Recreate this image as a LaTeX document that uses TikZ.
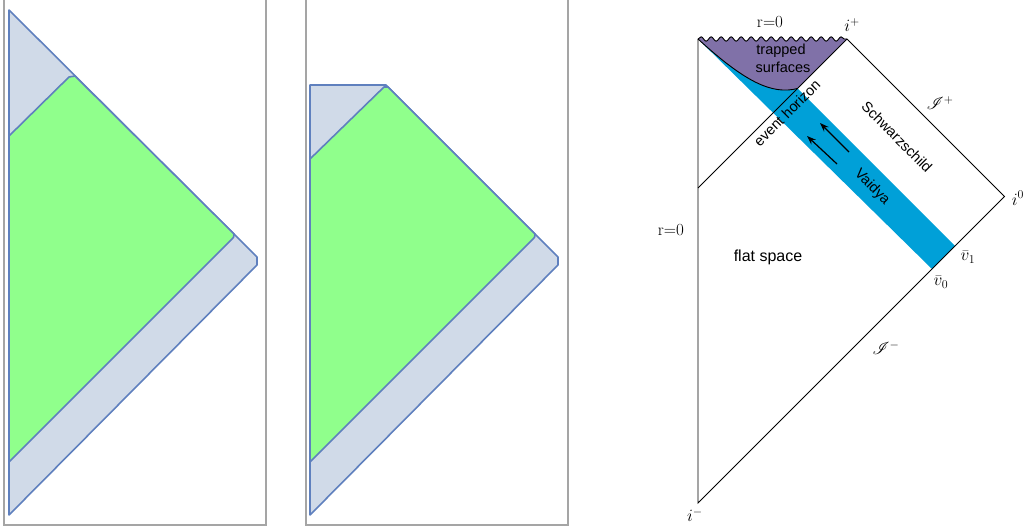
\documentclass[tikz,border=0pt]{standalone}
\usepackage{fontspec}
\setsansfont{Liberation Sans}
\usepackage{mathrsfs}
\usetikzlibrary{decorations.pathmorphing,arrows.meta}
\definecolor{frameGray}{RGB}{165,165,165}
\definecolor{edgeBlue}{RGB}{95,128,190}
\definecolor{paleBlue}{RGB}{208,218,232}
\definecolor{lightGreen}{RGB}{144,255,140}
\definecolor{bandBlue}{RGB}{0,160,216}
\definecolor{trapPurple}{RGB}{128,113,168}
\tikzset{
  panelframe/.style={draw=frameGray, line width=1.2pt},
  outerregion/.style={draw=edgeBlue, fill=paleBlue, line width=1.6pt, line join=round},
  innerregion/.style={draw=edgeBlue, fill=lightGreen, line width=1.6pt, line join=round},
  penline/.style={draw=black, line width=0.9pt},
  wavy/.style={decoration={snake,segment length=10pt,amplitude=2.2pt}},
  flowarrow/.style={draw=black, line width=1.2pt, -{Stealth[length=9pt,width=6.5pt]}},
  mlab/.style={font=\fontsize{17}{20}\selectfont, inner sep=0pt},
  slab/.style={font=\sffamily\fontsize{14.5}{16}\selectfont, inner sep=0pt}
}
\begin{document}
\begin{tikzpicture}[x=1pt,y=-1pt]
\useasboundingbox (0,0) rectangle (1024,529);

% ---------- panel 1 ----------
\draw[panelframe] (4,-5) rectangle (266,525);
\draw[outerregion] (9,10) -- (257,257) -- (257,265) -- (9,515) -- cycle;
\draw[innerregion] (9,136) -- (69,77) -- (75,76) -- (234,234)
  .. controls (234,237) .. (231,240) -- (9,462) -- cycle;

% ---------- panel 2 ----------
\draw[panelframe] (306,-5) rectangle (568,525);
\draw[outerregion] (310,85) -- (386,85) -- (558,257) -- (558,265) -- (310,515) -- cycle;
\draw[innerregion] (310,159) -- (384,87) -- (388,87) -- (535,234)
  .. controls (535,237) .. (532,240) -- (310,462) -- cycle;

% ---------- Penrose diagram ----------
\coordinate (T) at (698,39);
\coordinate (Ip) at (847,39);
\coordinate (I0) at (1004.5,196.5);
\coordinate (Im) at (698,503);
\coordinate (H) at (698,188);
\coordinate (X) at (797.5,88.5);
\coordinate (V0) at (932,269);
\coordinate (V1) at (955,246);

% Vaidya band
\fill[bandBlue] (T) -- (V0) -- (V1) -- (X) -- cycle;
% trapped surfaces
\fill[trapPurple] (T) decorate[wavy] {-- (Ip)}
  -- (X) .. controls (772,95) and (745,82) .. (T);
\draw[penline] (X) .. controls (772,95) and (745,82) .. (T);
\draw[penline, decorate, wavy] (T) -- (Ip);

\draw[penline] (Ip) -- (I0) -- (Im) -- (T);
\draw[penline] (H) -- (Ip);

% arrows
\coordinate (a1s) at (849,152);
\coordinate (a1e) at (820,123);
\coordinate (a2s) at (837,164);
\coordinate (a2e) at (807,136);
\draw[flowarrow] (a1s) -- (a1e);
\draw[flowarrow] (a2s) -- (a2e);

% labels
\node[mlab] (rtop) at (770,22) {r=0};
\node[mlab] (ip) at (852,25) {$i^+$};
\node[mlab] (scrip) at (940,103) {$\mathscr{I}^+$};
\node[mlab] (izero) at (1018,198) {$i^0$};
\node[mlab] (vone) at (968,257) {$\bar v_1$};
\node[mlab] (vzero) at (941,282) {$\bar v_0$};
\node[mlab] (scrim) at (886,348) {$\mathscr{I}^-$};
\node[mlab] (im) at (695,515) {$i^-$};
\node[mlab] (rleft) at (671,230) {r=0};

\node[slab] (trapped) at (781,51) {trapped};
\node[slab] (surfaces) at (783,67) {surfaces};
\node[slab, rotate=45] (evh) at (787,113) {event horizon};
\node[slab, rotate=-45] (schw) at (897,137) {Schwarzschild};
\node[slab, rotate=-45] (vaidya) at (872,187) {Vaidya};
\node[slab, font=\sffamily\fontsize{16}{18}\selectfont] (flat) at (768,257) {flat space};
\end{tikzpicture}
\end{document}
